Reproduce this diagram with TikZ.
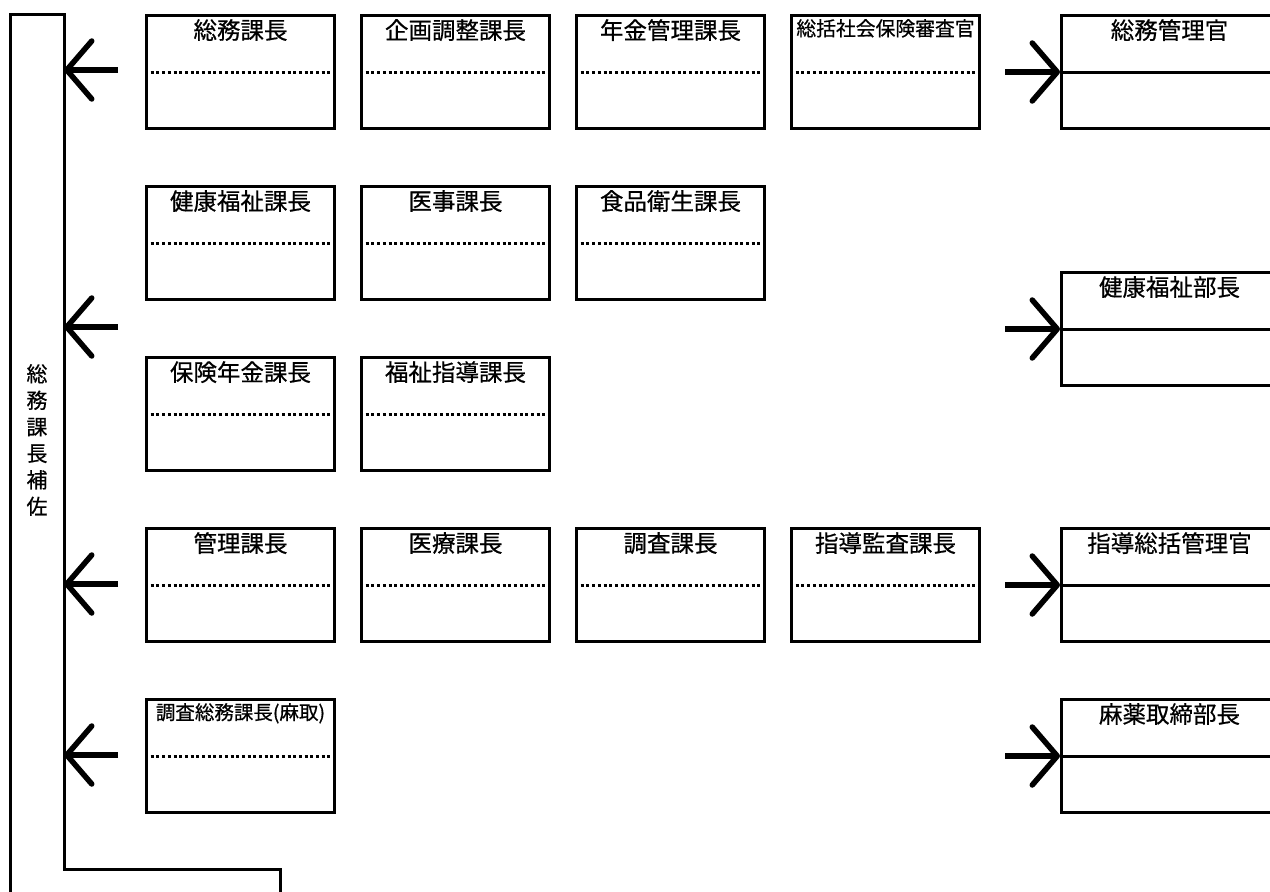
\documentclass[tikz,border=0pt]{standalone}
\usepackage{fontspec}
\newfontfamily\jpfont[FakeBold=0.6]{Noto Sans CJK JP}
\usetikzlibrary{arrows.meta}

\begin{document}
\begin{tikzpicture}[x=1pt,y=-1pt,line join=miter]
	\tikzset{
		kabox/.style={draw,line width=3pt,minimum width=188pt,minimum height=113pt,inner sep=0pt,anchor=north west},
		bubox/.style={draw,line width=3pt,minimum width=216pt,minimum height=113pt,inner sep=0pt,anchor=north west},
		midasi/.style={anchor=north,inner sep=0pt,yshift=-5pt},
		tensen/.style={line width=3pt,dash pattern=on 3pt off 2.7pt},
		yaji/.style={line width=5.5pt,-{Straight Barb[length=25pt,width=58pt,round]}},
		waku/.style={line width=3pt}
	}
	\useasboundingbox (0,0) rectangle (1270,892);
	% 総務課長補佐
	\draw[waku] (10,896) -- (10,14) -- (64,14) -- (64,869) -- (280,869) -- (280,896);
	\node[font=\jpfont\fontsize{21}{26.5}\selectfont,align=center] (hosa) at (37,440) {総\\務\\課\\長\\補\\佐};
	% 各課長
	\foreach \n/\x/\y/\fs/\t in {a1/145/14/23.5/総務課長,a2/360/14/23.5/企画調整課長,a3/575/14/23.5/年金管理課長,a4/790/14/19.8/総括社会保険審査官,
		b1/145/185/23.5/健康福祉課長,b2/360/185/23.5/医事課長,b3/575/185/23.5/食品衛生課長,
		c1/145/356/23.5/保険年金課長,c2/360/356/23.5/福祉指導課長,
		d1/145/527/23.5/管理課長,d2/360/527/23.5/医療課長,d3/575/527/23.5/調査課長,d4/790/527/23.5/指導監査課長,
		e1/145/698/19.5/調査総務課長(麻取)}{
		\node[kabox] (\n) at (\x,\y) {};
		\node[midasi,font=\jpfont\fontsize{\fs}{\fs}\selectfont] at (\n.north) {\t};
		\draw[tensen] (\n.west) -- (\n.east);
	}
	% 部長・管理官
	\foreach \n/\y/\t in {h1/14/総務管理官,h2/271/健康福祉部長,h3/527/指導総括管理官,h4/698/麻薬取締部長}{
		\node[bubox] (\n) at (1060,\y) {};
		\node[midasi,font=\jpfont\fontsize{23.5}{23.5}\selectfont] at (\n.north) {\t};
		\draw[waku] (\n.west) -- (\n.east);
		\path (\n.west) ++(-55,0) coordinate (\n o);
		\draw[yaji] (\n o) -- (\n.west);
	}
	% 補佐への矢印
	\foreach \i/\y in {1/70,2/327,3/584,4/755}{
		\coordinate (ls\i) at (118,\y);
		\coordinate (lt\i) at (64,\y);
		\draw[yaji] (ls\i) -- (lt\i);
	}
\end{tikzpicture}
\end{document}
